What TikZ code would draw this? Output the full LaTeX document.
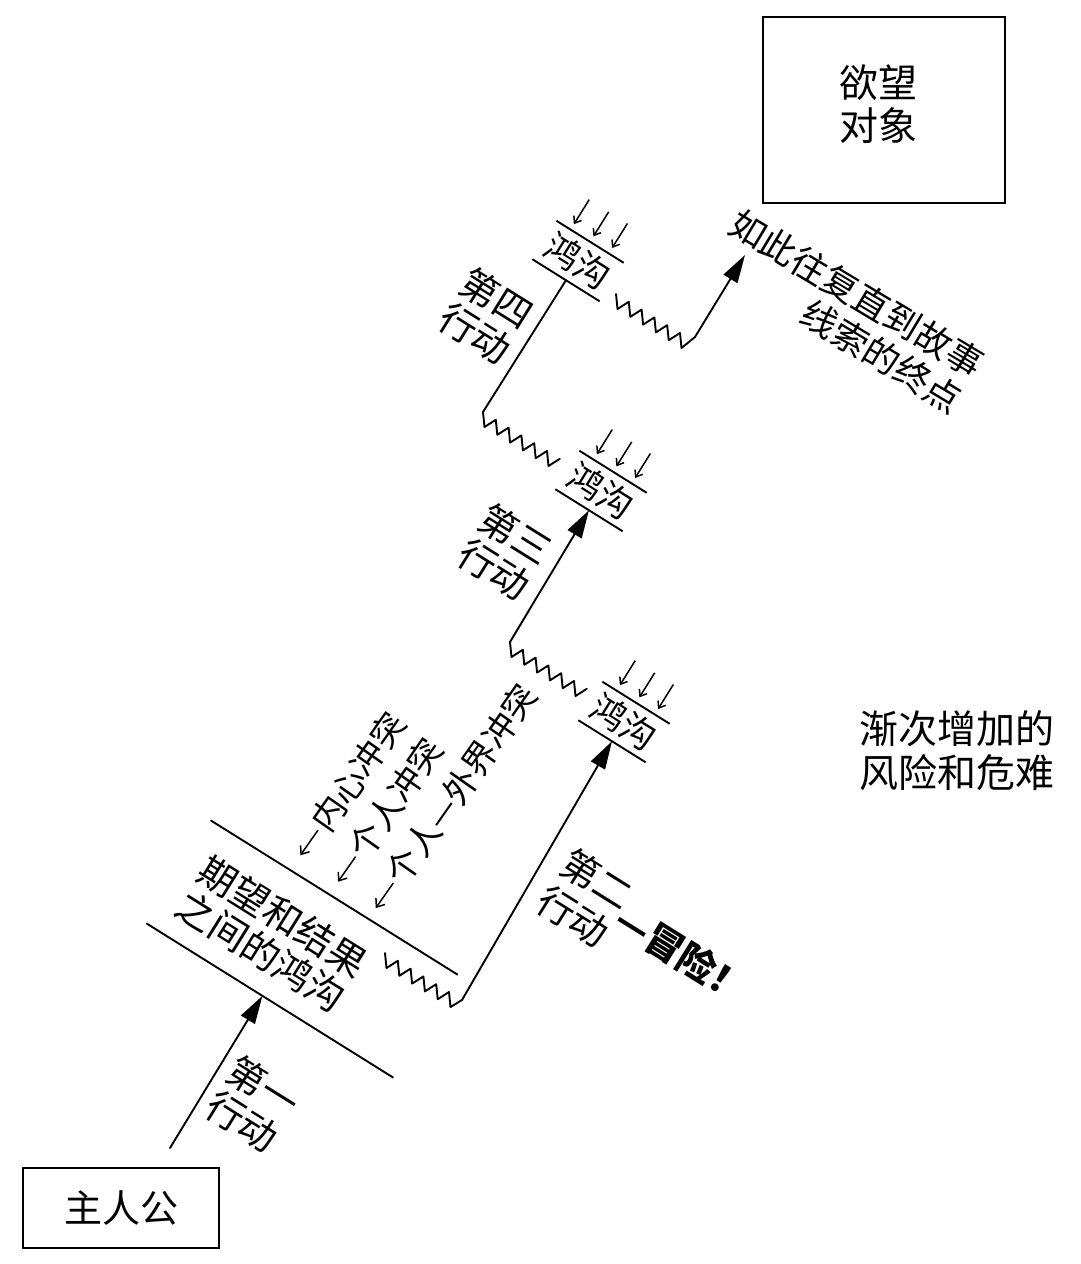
\documentclass[tikz,border=0pt]{standalone}
\usepackage{fontspec}
\setmainfont{Noto Sans CJK SC}
\usetikzlibrary{arrows.meta,calc}
\tikzset{
  ln/.style={line width=1.9pt, line cap=round, line join=round},
  act/.style={ln, -{Triangle[length=28pt,width=16pt]}},
  gapline/.style={line width=1.9pt},
  gaparrow/.style={line width=1.5pt, -{Straight Barb[length=6pt,width=9pt]}},
  boxnode/.style={draw, line width=2.6pt, inner sep=0pt, align=center},
  txt/.style={font=\fontsize{38}{41}\selectfont, inner sep=0pt, align=center},
  biggap/.style={rotate=-32, minimum width=291pt, minimum height=121pt, inner sep=0pt},
  smallgap/.style={rotate=-32, minimum width=79pt, minimum height=45pt, inner sep=0pt,
                   font=\fontsize{35}{38}\selectfont},
}
\newcommand\larr{\tikz[baseline=-0.36em]\draw[line width=1.5pt, -{Straight Barb[length=7pt,width=11pt]}] (0.92em,0pt) -- (0.02em,0pt);\hspace{0.06em}}
\newcommand\gapsym[2]{%
  \node[smallgap] (#1) at #2 {鸿沟};
  \draw[gapline] (#1.north west) -- (#1.north east);
  \draw[gapline] (#1.south west) -- (#1.south east);
  \begin{scope}[shift={(#1.center)}, rotate=-32]
    \foreach \ua in {-23,0,22} {\draw[gaparrow] (\ua,-58) -- (\ua,-29);}
  \end{scope}}
\begin{document}
\begin{tikzpicture}[x=1pt,y=-1pt]
\useasboundingbox (0,0) rectangle (1080,1264);

% boxes
\node[txt, boxnode, minimum width=196pt, minimum height=80pt] (hero) at (121,1208) {主人公};
\node[boxnode, minimum width=242pt, minimum height=186pt] (goal) at (884,110) {};
\node[txt, font=\fontsize{39}{43}\selectfont] (goalt) at (878,104) {欲望\\对象};

% big gap
\node[biggap] (bg) at (302,949) {};
\draw[gapline] (bg.north west) -- (bg.north east);
\draw[gapline] (bg.south west) -- (bg.south east);
\node[txt, rotate=-32] (bgt) at (272,934) {期望和结果\\之间的鸿沟};

% small gaps
\gapsym{g2}{(624,722)}
\gapsym{g3}{(601,491)}
\gapsym{g4}{(578,261)}

% action 1
\coordinate (a1) at (170,1148);
\draw[act] (a1) -- ($(bg.south west)!0.47!(bg.south east)$);

% action 2
\coordinate (z1) at (385,953);
\coordinate (k1) at (462,1000);
\draw[act] (z1) \foreach \i in {1,...,5}{ -- ++(1.5,15) -- ++(11.3,-7.2)} -- ++(1.5,15) -- (k1) -- (g2.south);

% action 3
\coordinate (z2) at (510,642);
\draw[ln] (z2) \foreach \i in {1,...,6}{ -- ++(1.5,15) -- ++(11.3,-7.2)};
\draw[act] (z2) -- (g3.south);

% action 4
\coordinate (z3) at (483,412);
\draw[ln] (z3) \foreach \i in {1,...,6}{ -- ++(1.5,15) -- ++(11.3,-7.2)};
\draw[ln] (z3) -- (g4.south);

% after gap 4
\coordinate (z4) at (616,294);
\coordinate (k4) at (695,337);
\coordinate (tip) at (745,255);
\draw[act] (z4) \foreach \i in {1,...,5}{ -- ++(1.5,15) -- ++(11.3,-7.2)} -- ++(1.5,15) -- (k4) -- (tip);

% labels
\node[txt, rotate=-32] (l1) at (253,1104) {第一\\行动};
\node[txt, rotate=-32] (l2) at (646,941) {\begin{tabular}{@{}c@{}}第二\\行动\end{tabular}{\bfseries —冒险！}};
\node[txt, rotate=-32] (l3) at (505,552) {第三\\行动};
\node[txt, rotate=-32] (l4) at (486,316) {第四\\行动};
\node[txt, rotate=-31, align=right, font=\fontsize{36}{41}\selectfont] (endl) at (846,311) {如此往复直到故事\\线索的终点};
\node[txt, font=\fontsize{39}{44}\selectfont] (risk) at (957,751) {渐次增加的\\风险和危难};
\node[rotate=55, align=left, inner sep=0pt, font=\fontsize{34}{46}\selectfont] (conf) at (414,772)
  {\larr 内心冲突\\\larr 个人冲突\\\larr 个人—外界冲突};
\end{tikzpicture}
\end{document}
